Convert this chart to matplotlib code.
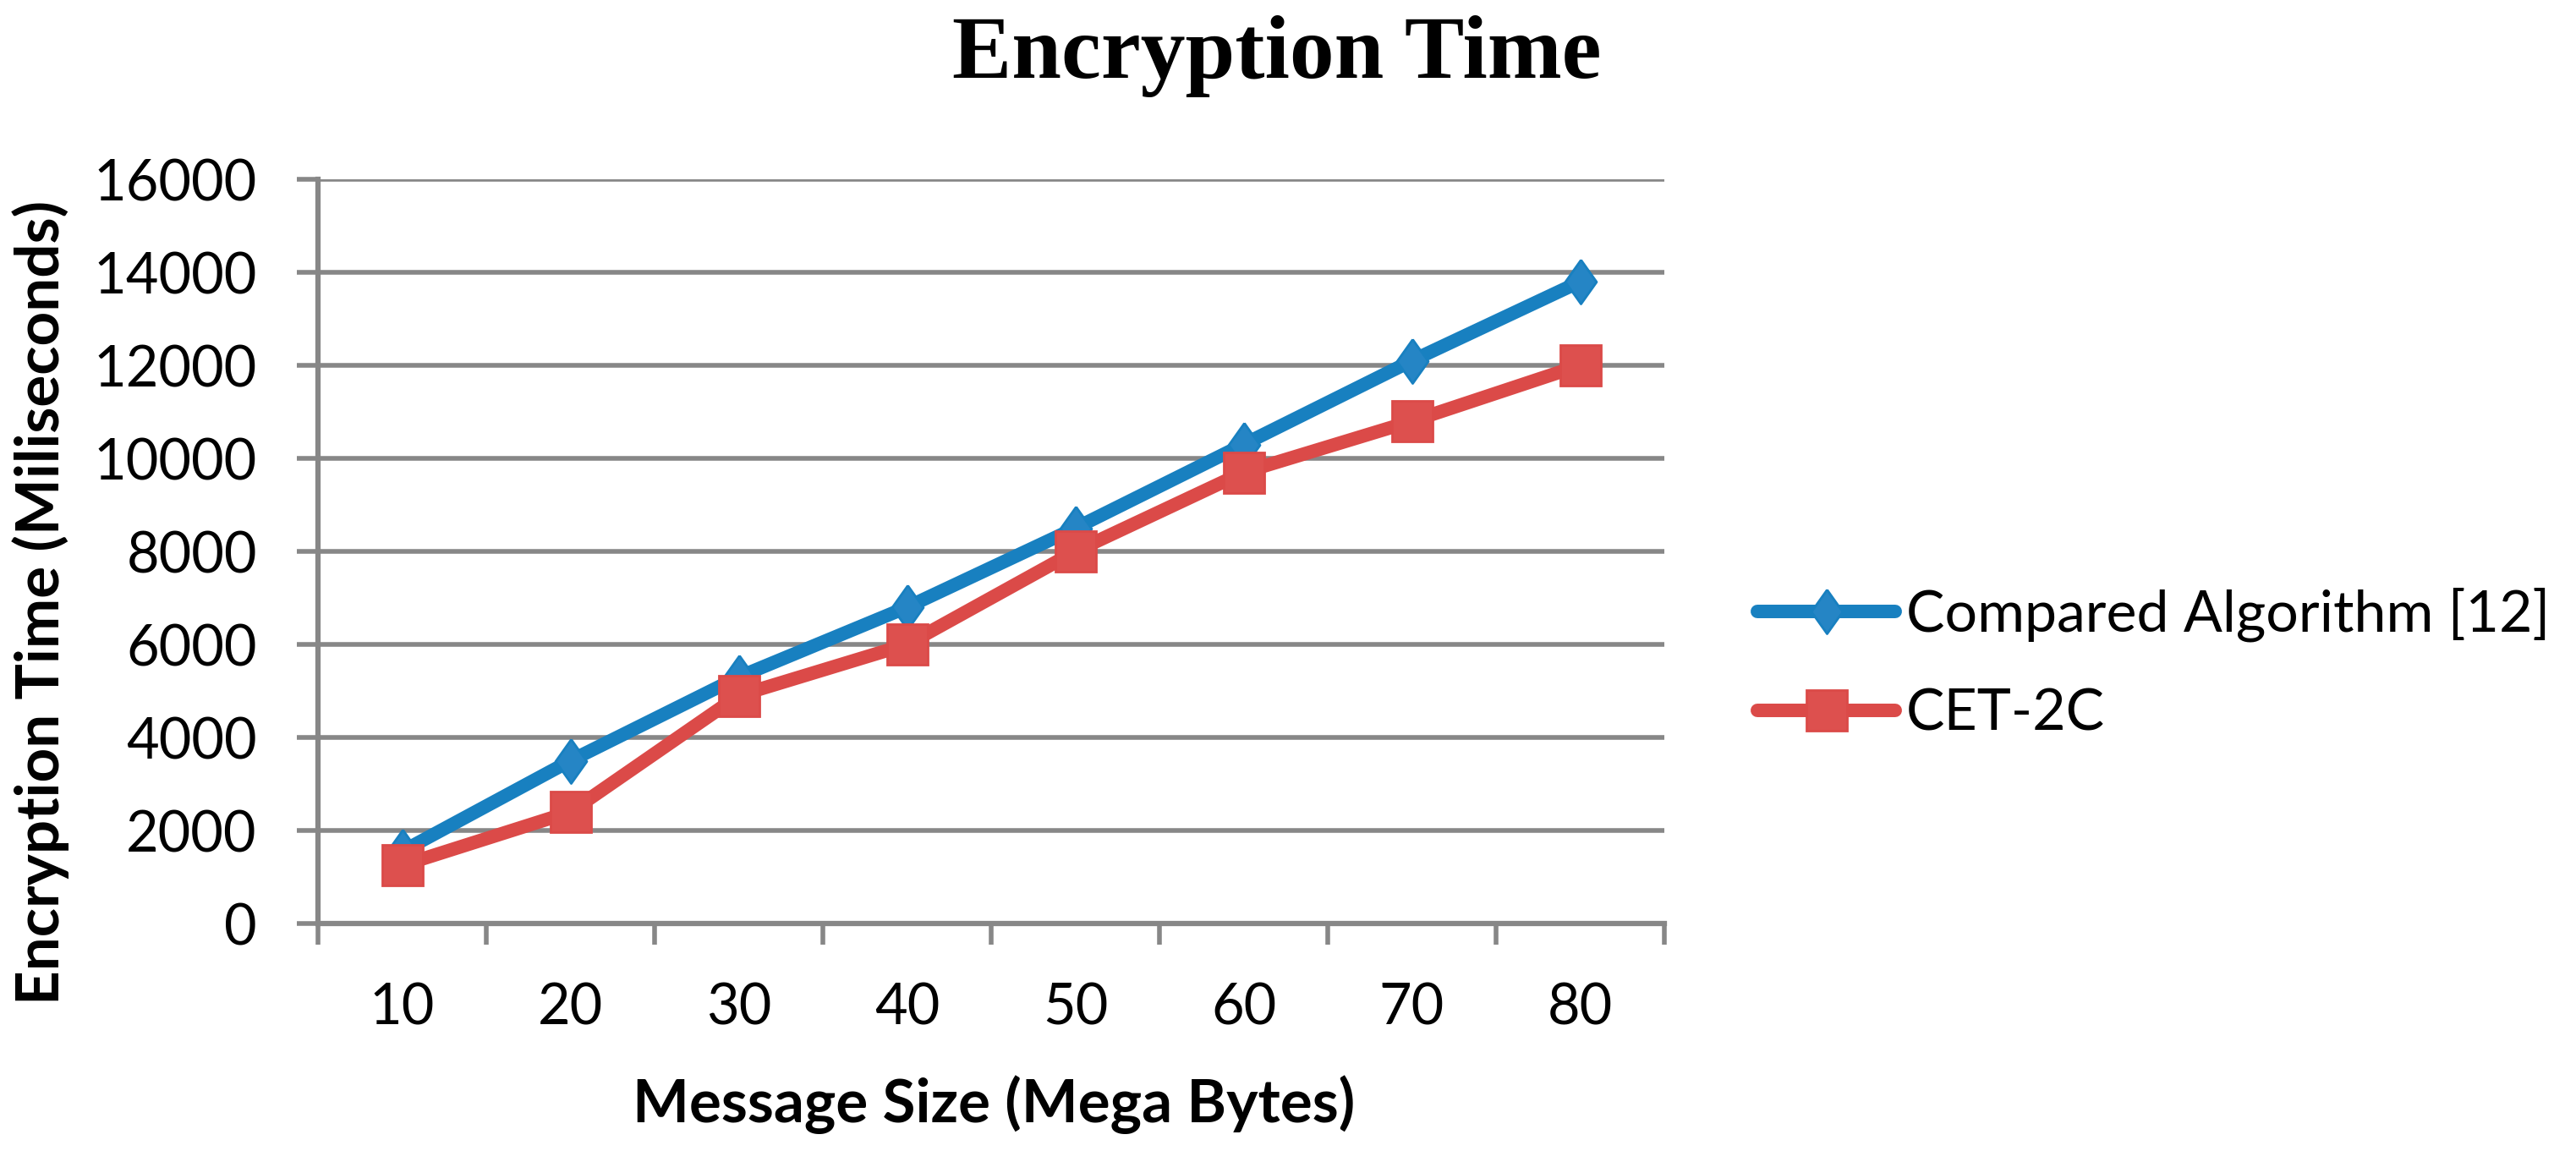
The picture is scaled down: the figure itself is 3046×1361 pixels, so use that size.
import numpy as np
import matplotlib
matplotlib.use("Agg")
import matplotlib.pyplot as plt

# data
sizes = [10, 20, 30, 40, 50, 60, 70, 80]
compared = [1550, 3500, 5300, 6800, 8500, 10300, 12100, 13800]
cet2c = [1250, 2400, 4900, 6000, 8000, 9700, 10800, 12000]
series_names = ["Compared Algorithm [12]", "CET-2C"]
yticks = [0, 2000, 4000, 6000, 8000, 10000, 12000, 14000, 16000]

W, H = 3046, 1361
grid_c = "#878787"
sans = ["Lato", "DejaVu Sans"]

fig = plt.figure(figsize=(W / 100, H / 100), dpi=100)
ax = fig.add_axes([376 / W, 1 - 1092 / H, (1968 - 376) / W, (1092 - 212) / H])

pos = np.arange(1, len(sizes) + 1)
diamond = [(0, 1), (0.71, 0), (0, -1), (-0.71, 0), (0, 1)]

ax.plot(pos, compared, color="#1880C0", lw=11.5, marker=diamond, ms=37.5,
        mfc="#2585C5", mec="#1880C0", mew=2, solid_capstyle="round",
        solid_joinstyle="round", label=series_names[0], zorder=3, clip_on=False)
ax.plot(pos, cet2c, color="#DB4A48", lw=11.5, marker="s", ms=35,
        mfc="#DD504E", mec="#DB4A48", mew=2, solid_capstyle="round",
        solid_joinstyle="round", label=series_names[1], zorder=4, clip_on=False)

ax.set_xlim(0.5, len(sizes) + 0.5)
ax.set_ylim(0, 16000)
ax.set_yticks(yticks)
ax.set_yticklabels([str(v) for v in yticks], fontfamily=sans, fontsize=48)
ax.set_xticks(pos)
ax.set_xticklabels([str(s) for s in sizes], fontfamily=sans, fontsize=48)
ax.set_xticks(np.arange(0.5, len(sizes) + 1), minor=True)

ax.yaxis.grid(True, color=grid_c, lw=4)
ax.set_axisbelow(True)
for s in ["top", "right"]:
    ax.spines[s].set_visible(False)
for s in ["left", "bottom"]:
    ax.spines[s].set_color(grid_c)
    ax.spines[s].set_linewidth(4.5)

ax.tick_params(axis="y", length=18, width=4, color=grid_c, pad=34)
ax.tick_params(axis="x", which="major", length=0, pad=50)
ax.tick_params(axis="x", which="minor", length=18, width=4, color=grid_c)

fig.text(1510 / W, 1 - 92 / H, "Encryption Time", ha="center", va="baseline",
         fontfamily="Liberation Serif", fontweight="bold", fontsize=76)
fig.text(1175 / W, 1 - 1327 / H, "Message Size (Mega Bytes)", ha="center",
         va="baseline", fontfamily=sans, fontweight="bold", fontsize=51)
fig.text(48 / W, 1 - 712 / H, "Encryption Time (Miliseconds)", rotation=90,
         ha="center", va="center", fontfamily=sans, fontweight="bold", fontsize=51)

fig.legend(loc="center left", bbox_to_anchor=(2078 / W, 1 - 785 / H),
           frameon=False, borderpad=0, borderaxespad=0, handlelength=2.4,
           handletextpad=0.18, labelspacing=0.8,
           prop={"family": sans, "size": 49})

fig.savefig("out.png", dpi=100)
